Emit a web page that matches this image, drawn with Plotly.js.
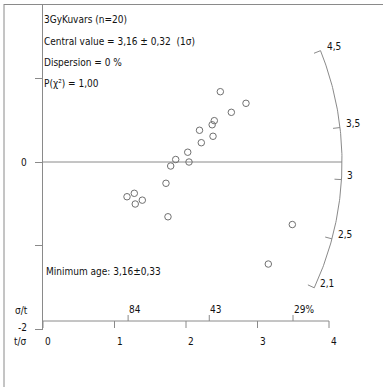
<!DOCTYPE html>
<html><head><meta charset="utf-8">
<script src="https://cdn.plot.ly/plotly-3.0.1.min.js"></script>
<style>html,body{margin:0;padding:0;background:#fff;overflow:hidden}</style>
</head><body><div id="chart" style="width:383px;height:387px"></div>
<script>
// ---- data ----
const precision = [2.480,2.839,2.634,2.396,2.366,2.189,2.378,2.214,2.024,1.856,2.042,1.786,1.720,1.277,1.175,1.389,1.290,1.748,3.487,3.151];
const standardized = [0.842,0.703,0.595,0.495,0.446,0.380,0.308,0.231,0.117,0.030,0.000,-0.048,-0.255,-0.375,-0.416,-0.457,-0.503,-0.656,-0.749,-1.222];
const centralValue = 3.16;
const arcTickValues = [4.5, 3.5, 3, 2.5, 2.1];
const arcTickLabels = ["4,5", "3,5", "3", "2,5", "2,1"];
const xTickValues = [0, 1, 2, 3, 4];
const xTickLabels = ["0", "1", "2", "3", "4"];
const relErrPercent = [84, 43, 28.6];
const relErrLabels = ["84", "43", "29%"];
const yTickValues = [1, 0, -1, -2];
const yTickLabels = ["", "0", "", "-2"];
const infoLines = ["3GyKuvars (n=20)", "Central value = 3,16 ± 0,32  (1σ)", "Dispersion = 0 %", "P(χ²) = 1,00"];
const minAgeText = "Minimum age: 3,16±0,33";

// ---- geometry ----
const W = 383, H = 387, ML = 43, MT = 4, MB = 57;
const plotW = W - ML, plotH = H - MT - MB;
const SX = 71.5, SY = 83.5;         // px per unit
const ZERO_PY = 162;
const yTop = (ZERO_PY - MT) / SY;
const xRange = [0, plotW / SX];
const yRange = [yTop - plotH / SY, yTop];
const xFromPx = px => (px - ML) / SX;
const yFromPx = py => (ZERO_PY - py) / SY;
const pyToPaper = py => (MT + plotH - py) / plotH;
const pxToPaper = px => (px - ML) / plotW;

const ARC_R = 299;   // px
const ARC_K = 1.135;
const LINE = '#8a8a8a';
const FONT = {family: 'DejaVu Sans Condensed, DejaVu Sans, sans-serif', size: 10, color: '#111'};

const thetaOf = t => Math.atan(ARC_K * Math.log(t / centralValue));
const arcPt = (th, r) => [r * Math.cos(th) / SX, r * Math.sin(th) / SY];

const lx = [], ly = [];
function seg(a, b) { lx.push(a[0], b[0], null); ly.push(a[1], b[1], null); }

// arc
const thMin = thetaOf(Math.min(...arcTickValues));
const thMax = thetaOf(Math.max(...arcTickValues));
for (let i = 0; i <= 120; i++) {
  const th = thMin + (thMax - thMin) * i / 120;
  const p = arcPt(th, ARC_R); lx.push(p[0]); ly.push(p[1]);
}
lx.push(null); ly.push(null);
// arc ticks
arcTickValues.forEach(t => { const th = thetaOf(t); seg(arcPt(th, ARC_R), arcPt(th, ARC_R - 7)); });
// zero line
seg([0, 0], [ARC_R / SX, 0]);
// x axis
const axisY = yFromPx(321);
seg([xTickValues[0], axisY], [xTickValues[xTickValues.length - 1], axisY]);
xTickValues.forEach(v => seg([v, axisY], [v, axisY - 7 / SY]));
relErrPercent.forEach(p => { const v = 100 / p; seg([v, axisY], [v, axisY + 6 / SY]); });

const traces = [
  {x: lx, y: ly, mode: 'lines', line: {color: LINE, width: 1}, hoverinfo: 'skip', cliponaxis: false},
  {x: precision, y: standardized, mode: 'markers', hoverinfo: 'skip',
   marker: {symbol: 'circle-open', size: 6.5, color: '#707070', line: {width: 1, color: '#707070'}}}
];

const ann = [];
const A = (o) => ann.push(Object.assign({showarrow: false, font: FONT, xref: 'x', yref: 'y'}, o));
const infoPy = [19, 41, 62.5, 83];
infoLines.forEach((s, i) => A({text: s, x: 0, y: yFromPx(infoPy[i]), xanchor: 'left', yanchor: 'middle', xshift: -1}));
A({text: minAgeText, x: xFromPx(44), y: yFromPx(271), xanchor: 'left', yanchor: 'middle'});
// y tick labels (left of plot area -> paper coords)
yTickValues.forEach((v, i) => { if (yTickLabels[i]) A({text: yTickLabels[i], xref: 'paper', yref: 'paper', x: pxToPaper(28.5), y: pyToPaper(ZERO_PY - v * SY) , xanchor: 'right', yanchor: 'middle', yshift: v < 0 ? 2 : 0}); });
// x tick labels
xTickValues.forEach((v, i) => A({text: xTickLabels[i], x: v, y: axisY, xanchor: 'left', yanchor: 'middle', yshift: -20}));
A({text: 't/σ', xref: 'paper', x: pxToPaper(29), y: axisY, xanchor: 'right', yanchor: 'middle', yshift: -20});
relErrPercent.forEach((p, i) => A({text: relErrLabels[i], x: 100 / p, y: axisY, xanchor: 'left', yanchor: 'middle', yshift: 12, xshift: -1}));
A({text: 'σ/t', xref: 'paper', x: pxToPaper(30), y: axisY, xanchor: 'right', yanchor: 'middle', yshift: 11});
// arc labels
arcTickValues.forEach((t, i) => { const p = arcPt(thetaOf(t), ARC_R); A({text: arcTickLabels[i], x: p[0], y: p[1], xanchor: 'left', yanchor: 'middle', xshift: 4, yshift: 4}); });

const shapes = [
  {type: 'line', xref: 'paper', yref: 'paper', x0: pxToPaper(4), x1: pxToPaper(4), y0: pyToPaper(4), y1: pyToPaper(H), line: {color: LINE, width: 1}},
  {type: 'line', xref: 'paper', yref: 'paper', x0: pxToPaper(4), x1: pxToPaper(W), y0: pyToPaper(4.5), y1: pyToPaper(4.5), line: {color: LINE, width: 1}}
];

const layout = {
  width: W, height: H, margin: {l: ML, r: 0, t: MT, b: MB, pad: 0},
  paper_bgcolor: '#fff', plot_bgcolor: '#fff', showlegend: false,
  xaxis: {range: xRange, visible: false, fixedrange: true},
  yaxis: {range: yRange, showgrid: false, zeroline: false, showline: true, linecolor: LINE, linewidth: 1,
          ticks: 'outside', ticklen: 7, tickcolor: LINE, tickwidth: 1, tickvals: yTickValues, ticktext: yTickLabels,
          showticklabels: false, fixedrange: true},
  annotations: ann, shapes: shapes
};
Plotly.newPlot('chart', traces, layout, {staticPlot: true, displayModeBar: false});
</script></body></html>
